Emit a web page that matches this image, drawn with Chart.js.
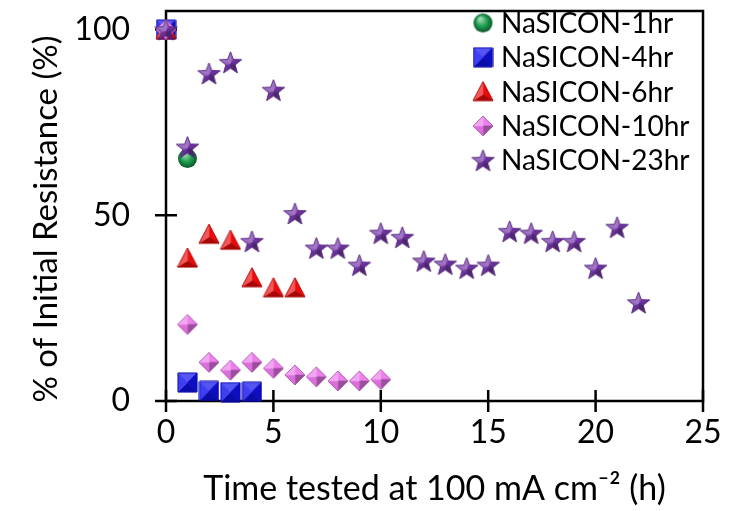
<!DOCTYPE html>
<html>
<head>
<meta charset="utf-8">
<script src="https://cdn.jsdelivr.net/npm/chart.js@4.4.0/dist/chart.umd.min.js"></script>
<style>
    html, body { margin: 0; padding: 0; background: #fff; }
</style>
</head>
<body>
<canvas id="chart" width="746" height="511"></canvas>
<script>
/////////////
// Data
var seriesNames = ['NaSICON-1hr', 'NaSICON-4hr', 'NaSICON-6hr', 'NaSICON-10hr', 'NaSICON-23hr'];

var hours1 = [0, 1];
var resist1 = [100, 65.3];

var hours4 = [0, 1, 2, 3, 4];
var resist4 = [100, 5.0, 2.7, 2.4, 2.5];

var hours6 = [0, 1, 2, 3, 4, 5, 6];
var resist6 = [100, 38.5, 44.9, 43.3, 33.2, 30.5, 30.5];

var hours10 = [0, 1, 2, 3, 4, 5, 6, 7, 8, 9, 10];
var resist10 = [100, 20.6, 10.4, 8.3, 10.4, 8.8, 7.0, 6.5, 5.4, 5.4, 5.8];

var hours23 = [0, 1, 2, 3, 4, 5, 6, 7, 8, 9, 10, 11, 12, 13, 14, 15, 16, 17, 18, 19, 20, 21, 22];
var resist23 = [100, 68.4, 88.2, 91.2, 43.0, 83.7, 50.5, 41.2, 41.2, 36.6, 45.2, 44.1,
    37.7, 36.9, 35.8, 36.6, 45.7, 45.2, 43.0, 43.0, 35.8, 46.8, 26.5];

var xTicks = [0, 5, 10, 15, 20, 25];
var yTicks = [0, 50, 100];

var FONT = 'Lato, "Open Sans", sans-serif';

// Mix a hex colour towards white (amt > 0) or black (amt < 0)
function shade(hex, amt) {
    var n = parseInt(hex.slice(1), 16);
    var rgb = [(n >> 16) & 255, (n >> 8) & 255, n & 255];
    rgb = rgb.map(function (c) {
        return Math.round(amt > 0 ? c + (255 - c) * amt : c * (1 + amt));
    });
    return 'rgb(' + rgb.join(',') + ')';
}

// Small shaded marker images (3D look like the office chart)
function makeMarker(kind, color, size) {
    var c = document.createElement('canvas');
    c.width = size;
    c.height = size;
    var g = c.getContext('2d');
    var cx = size / 2, cy = size / 2, r = size / 2 - 1;

    if (kind === 'circle') {
        var grad = g.createRadialGradient(cx - r * 0.3, cy - r * 0.45, r * 0.1, cx, cy, r);
        grad.addColorStop(0, shade(color, 0.6));
        grad.addColorStop(0.55, color);
        grad.addColorStop(1, shade(color, -0.45));
        g.fillStyle = grad;
        g.beginPath();
        g.arc(cx, cy, r, 0, Math.PI * 2);
        g.fill();
        return c;
    }

    var verts = [];
    var apex = { x: cx, y: cy };
    if (kind === 'square') {
        verts = [[1, 1], [size - 1, 1], [size - 1, size - 1], [1, size - 1]];
    } else if (kind === 'triangle') {
        verts = [[cx, 1], [size - 1, size - 2], [1, size - 2]];
        apex = { x: cx, y: size * 0.62 };
    } else if (kind === 'diamond') {
        verts = [[cx, 1], [size - 1, cy], [cx, size - 1], [1, cy]];
    } else if (kind === 'star') {
        for (var k = 0; k < 10; k++) {
            var a = -Math.PI / 2 + k * Math.PI / 5;
            var rr = k % 2 === 0 ? r : r * 0.42;
            verts.push([cx + rr * Math.cos(a), cy + 1 + rr * Math.sin(a)]);
        }
        apex = { x: cx, y: cy + 1 };
    }

    var light = { x: -0.55, y: -0.83 };
    for (var i = 0; i < verts.length; i++) {
        var p = verts[i], q = verts[(i + 1) % verts.length];
        var mx = (p[0] + q[0]) / 2 - apex.x, my = (p[1] + q[1]) / 2 - apex.y;
        var len = Math.sqrt(mx * mx + my * my) || 1;
        var dot = (mx * light.x + my * light.y) / len;
        g.fillStyle = shade(color, dot * 0.35);
        g.beginPath();
        g.moveTo(apex.x, apex.y);
        g.lineTo(p[0], p[1]);
        g.lineTo(q[0], q[1]);
        g.closePath();
        g.fill();
        g.strokeStyle = g.fillStyle;
        g.lineWidth = 0.6;
        g.stroke();
    }
    g.beginPath();
    verts.forEach(function (v, j) { j ? g.lineTo(v[0], v[1]) : g.moveTo(v[0], v[1]); });
    g.closePath();
    g.strokeStyle = shade(color, -0.3);
    g.lineWidth = 0.8;
    g.stroke();
    return c;
}

var markers = [
    makeMarker('circle', '#1a9d4c', 21),
    makeMarker('square', '#1010f0', 21),
    makeMarker('triangle', '#ee0a0a', 22),
    makeMarker('diamond', '#ec76ec', 22),
    makeMarker('star', '#7333a8', 25)
];

var allHours = [hours1, hours4, hours6, hours10, hours23];
var allResist = [resist1, resist4, resist6, resist10, resist23];

var datasets = seriesNames.map(function (name, i) {
    return {
        label: name,
        data: allHours[i].map(function (h, j) { return { x: h, y: allResist[i][j] }; }),
        pointStyle: markers[i],
        pointRadius: 10,
        pointHoverRadius: 10,
        showLine: false,
        clip: false,
        order: seriesNames.length - 1 - i // later series drawn on top
    };
});

// Frame and crossing tick marks, drawn under the markers
var framePlugin = {
    id: 'frame',
    beforeDatasetsDraw: function (chart) {
        var ctx = chart.ctx, a = chart.chartArea;
        var xs = chart.scales.x, ys = chart.scales.y;
        ctx.save();
        ctx.strokeStyle = '#000';
        ctx.lineWidth = 2.5;
        ctx.strokeRect(a.left, a.top, a.right - a.left, a.bottom - a.top);
        ctx.beginPath();
        xTicks.forEach(function (v) {
            var px = xs.getPixelForValue(v);
            ctx.moveTo(px, a.bottom - 11);
            ctx.lineTo(px, a.bottom + 11);
        });
        yTicks.forEach(function (v) {
            var py = ys.getPixelForValue(v);
            ctx.moveTo(a.left - 11, py);
            ctx.lineTo(a.left + 11, py);
        });
        ctx.stroke();
        ctx.restore();
    }
};

// Legend inside the plot and the y title
var legendPlugin = {
    id: 'insideLegend',
    afterDraw: function (chart) {
        var ctx = chart.ctx;
        ctx.save();
        ctx.fillStyle = '#000';
        ctx.font = '28px ' + FONT;
        ctx.textBaseline = 'middle';
        ctx.textAlign = 'left';
        chart.data.datasets.forEach(function (ds, i) {
            var y = 23 + i * 34.3;
            var img = ds.pointStyle;
            ctx.drawImage(img, 483 - img.width / 2, y - img.height / 2);
            ctx.fillText(ds.label, 501, y + 1);
        });

        ctx.font = '33px ' + FONT;
        ctx.textAlign = 'center';
        ctx.translate(46, 219);
        ctx.rotate(-Math.PI / 2);
        ctx.fillText('% of Initial Resistance (%)', 0, 0);
        ctx.restore();
    }
};

var ctx = document.getElementById('chart');

new Chart(ctx, {
    type: 'scatter',
    data: { datasets: datasets },
    options: {
        responsive: false,
        animation: false,
        devicePixelRatio: 1,
        layout: { padding: { top: 8, right: 43, left: 0, bottom: 0 } },
        plugins: {
            legend: { display: false },
            tooltip: { enabled: false }
        },
        scales: {
            x: {
                type: 'linear',
                min: 0,
                max: 25,
                afterBuildTicks: function (s) { s.ticks = xTicks.map(function (v) { return { value: v }; }); },
                afterFit: function (s) { s.height = 110; s.paddingLeft = 0; s.paddingRight = 0; },
                grid: { display: false, drawTicks: false },
                border: { display: false },
                ticks: { color: '#000', font: { family: FONT, size: 32 }, padding: 12, maxRotation: 0 },
                title: {
                    display: true,
                    text: 'Time tested at 100 mA cm\u207B\u00B2 (h)',
                    color: '#000',
                    font: { family: FONT, size: 34 },
                    padding: { top: 0, bottom: 2 }
                }
            },
            y: {
                type: 'linear',
                min: 0,
                max: 105,
                afterBuildTicks: function (s) { s.ticks = yTicks.map(function (v) { return { value: v }; }); },
                afterFit: function (s) { s.width = 166; s.paddingTop = 0; s.paddingBottom = 0; },
                grid: { display: false, drawTicks: false },
                border: { display: false },
                ticks: { color: '#000', font: { family: FONT, size: 32 }, padding: 36 }
            }
        }
    },
    plugins: [framePlugin, legendPlugin]
});
</script>
</body>
</html>
